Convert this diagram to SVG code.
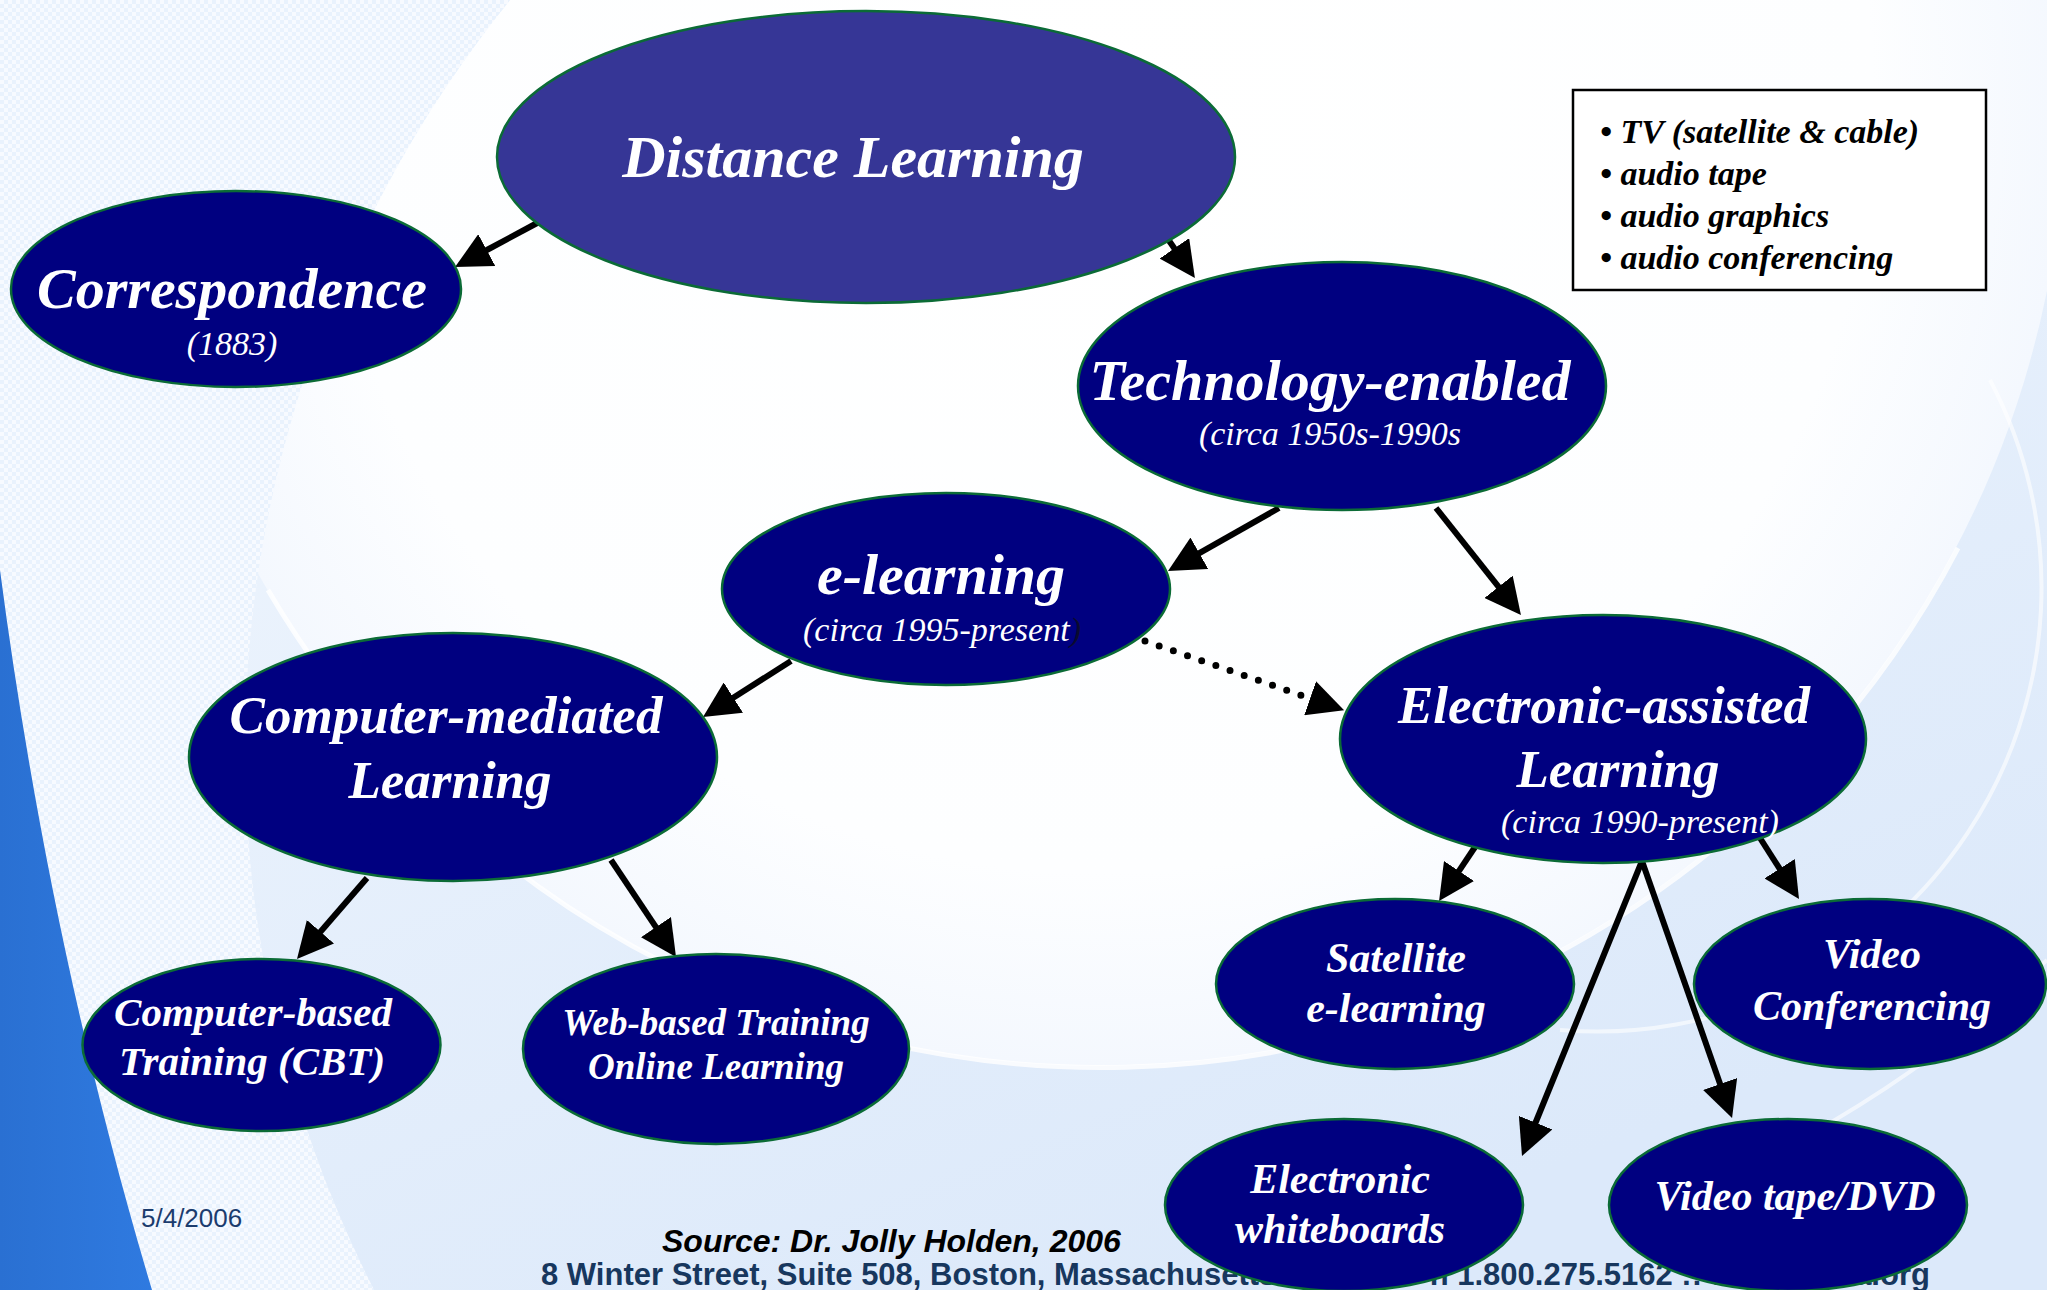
<svg xmlns="http://www.w3.org/2000/svg" width="2047" height="1290" viewBox="0 0 2047 1290">
<defs>
<style>
.node ellipse{fill:#000080;stroke:#0b6b36;stroke-width:2.5}
#n-distance ellipse{fill:#363696}
.t{font-family:"Liberation Serif","Times New Roman",serif;font-style:italic;font-weight:bold;fill:#fff;text-anchor:middle}
.sub{font-weight:normal;font-size:34px}
.conn line{stroke:#000;stroke-width:6;marker-end:url(#ah)}
.conn line.dot{stroke-width:7;stroke-dasharray:0 15;stroke-linecap:round}
.legend text{font-family:"Liberation Serif","Times New Roman",serif;font-style:italic;font-weight:bold;font-size:34px;fill:#000}
.foot{font-family:"Liberation Sans",Arial,sans-serif}
</style>
<marker id="ah" markerUnits="userSpaceOnUse" markerWidth="36" markerHeight="36" viewBox="0 0 36 36" refX="2" refY="18" orient="auto"><path d="M0,0 L36,18 L0,36 Z" fill="#000"/></marker>
<pattern id="chk" width="8" height="8" patternUnits="userSpaceOnUse"><rect width="8" height="8" fill="#e9f2fd"/><rect width="4" height="4" fill="#f7faff"/><rect x="4" y="4" width="4" height="4" fill="#f7faff"/></pattern>
<linearGradient id="bg" x1="0" y1="0" x2="0.6" y2="1"><stop offset="0" stop-color="#f3f8fe"/><stop offset="1" stop-color="#dce9fa"/></linearGradient>
<radialGradient id="disk" cx="0.5" cy="0.5" r="0.5"><stop offset="0" stop-color="#ffffff"/><stop offset="0.8" stop-color="#fdfeff"/><stop offset="1" stop-color="#f4f8fe"/></radialGradient>
<linearGradient id="blue" x1="0" y1="0" x2="1" y2="0"><stop offset="0" stop-color="#2a70d2"/><stop offset="1" stop-color="#2f7ae0"/></linearGradient>
<clipPath id="outer"><path d="M0,0 H2047 V1290 H0 Z M2629,750 A1192,1192 0 1 0 245,750 A1192,1192 0 1 0 2629,750 Z" clip-rule="evenodd"/></clipPath>
</defs>

<g id="background">
<rect width="2047" height="1290" fill="url(#bg)"/>
<circle cx="1100" cy="100" r="966" fill="url(#disk)"/>
<path d="M268,590 A966,966 0 0 0 1958,548" fill="none" stroke="#ffffff" stroke-width="5" opacity="0.8"/>
<path d="M1990,380 A444,444 0 0 1 1560,1030" fill="none" stroke="#ffffff" stroke-width="4" opacity="0.6"/>
<path d="M2047,960 Q1900,1100 1700,1190" fill="none" stroke="#ffffff" stroke-width="4" opacity="0.6"/>
<rect width="2047" height="1290" fill="url(#chk)" clip-path="url(#outer)"/>
<path d="M0,570 C30,800 80,1050 152,1290 L0,1290 Z" fill="url(#blue)"/>
</g>

<g id="footer">
<text class="foot" x="141" y="1227" font-size="26" fill="#1b3c6e">5/4/2006</text>
<text class="foot" x="662" y="1252" font-size="32" font-weight="bold" font-style="italic" fill="#000">Source: Dr. Jolly Holden, 2006</text>
<text class="foot" x="541" y="1285" font-size="31" font-weight="bold" fill="#17375e">8 Winter Street, Suite 508, Boston, Massachusetts 02108 :: Ph 1.800.275.5162 :: www.usdla.org</text>
</g>

<g id="connectors" class="conn">
<line x1="539" y1="222" x2="485" y2="251"/>
<line x1="1163" y1="232" x2="1175.5" y2="250"/>
<line x1="1279" y1="508" x2="1197.6" y2="554.2"/>
<line x1="1436" y1="508" x2="1499.8" y2="588.4"/>
<line class="dot" x1="1145" y1="641" x2="1312" y2="699"/>
<line x1="791" y1="661" x2="731.7" y2="698.7"/>
<line x1="367" y1="878" x2="319.2" y2="933.3"/>
<line x1="611" y1="860" x2="657.1" y2="928.8"/>
<line x1="1475" y1="847" x2="1457.9" y2="872.7"/>
<line x1="1760" y1="838" x2="1780.7" y2="870.4"/>
<line x1="1642" y1="861" x2="1534.8" y2="1124.5"/>
<line x1="1642" y1="861" x2="1720.8" y2="1085.9"/>
</g>

<g id="n-distance" class="node">
<ellipse cx="866" cy="157" rx="369" ry="146"/>
<text class="t" x="853" y="177" font-size="60" font-weight="normal">Distance Learning</text>
</g>
<g id="n-correspondence" class="node">
<ellipse cx="236" cy="289" rx="225" ry="98"/>
<text class="t" x="232" y="308" font-size="58">Correspondence</text>
<text class="t sub" x="232" y="355">(1883)</text>
</g>
<g id="n-technology" class="node">
<ellipse cx="1342" cy="386" rx="264" ry="124"/>
<text class="t" x="1330" y="400" font-size="58">Technology-enabled</text>
<text class="t sub" x="1330" y="445">(circa 1950s-1990s</text>
</g>
<g id="n-elearning" class="node">
<ellipse cx="946" cy="589" rx="224" ry="96"/>
<text class="t" x="941" y="594" font-size="58">e-learning</text>
<text class="t sub" x="942" y="641">(circa 1995-present<tspan fill="#0a0a30">)</tspan></text>
</g>
<g id="n-cml" class="node">
<ellipse cx="453" cy="757" rx="264" ry="124"/>
<text class="t" x="446" y="733" font-size="53">Computer-mediated</text>
<text class="t" x="450" y="798" font-size="53">Learning</text>
</g>
<g id="n-eal" class="node">
<ellipse cx="1603" cy="739" rx="263" ry="124"/>
<text class="t" x="1604" y="723" font-size="53">Electronic-assisted</text>
<text class="t" x="1618" y="787" font-size="53">Learning</text>
<text class="t sub" x="1640" y="833">(circa 1990-present)</text>
</g>
<g id="n-cbt" class="node">
<ellipse cx="261.5" cy="1045" rx="179" ry="86"/>
<text class="t" x="253" y="1026" font-size="41">Computer-based</text>
<text class="t" x="252" y="1075" font-size="41">Training (CBT)</text>
</g>
<g id="n-web" class="node">
<ellipse cx="716" cy="1049" rx="193" ry="95"/>
<text class="t" x="716" y="1035" font-size="37">Web-based Training</text>
<text class="t" x="716" y="1079" font-size="37">Online Learning</text>
</g>
<g id="n-satellite" class="node">
<ellipse cx="1395" cy="984" rx="179" ry="85"/>
<text class="t" x="1396" y="972" font-size="42">Satellite</text>
<text class="t" x="1396" y="1022" font-size="42">e-learning</text>
</g>
<g id="n-videoconf" class="node">
<ellipse cx="1870" cy="984" rx="176" ry="85"/>
<text class="t" x="1872" y="968" font-size="42">Video</text>
<text class="t" x="1872" y="1020" font-size="42">Conferencing</text>
</g>
<g id="n-whiteboards" class="node">
<ellipse cx="1344" cy="1205" rx="179" ry="86"/>
<text class="t" x="1340" y="1193" font-size="42">Electronic</text>
<text class="t" x="1340" y="1243" font-size="42">whiteboards</text>
</g>
<g id="n-videotape" class="node">
<ellipse cx="1788" cy="1205" rx="179" ry="86"/>
<text class="t" x="1795" y="1210" font-size="42">Video tape/DVD</text>
</g>

<g id="legend" class="legend">
<rect x="1573" y="90" width="413" height="200" fill="#fff" stroke="#000" stroke-width="2.5"/>
<text x="1600" y="143">• TV (satellite &amp; cable)</text>
<text x="1600" y="185">• audio tape</text>
<text x="1600" y="227">• audio graphics</text>
<text x="1600" y="269">• audio conferencing</text>
</g>
</svg>
